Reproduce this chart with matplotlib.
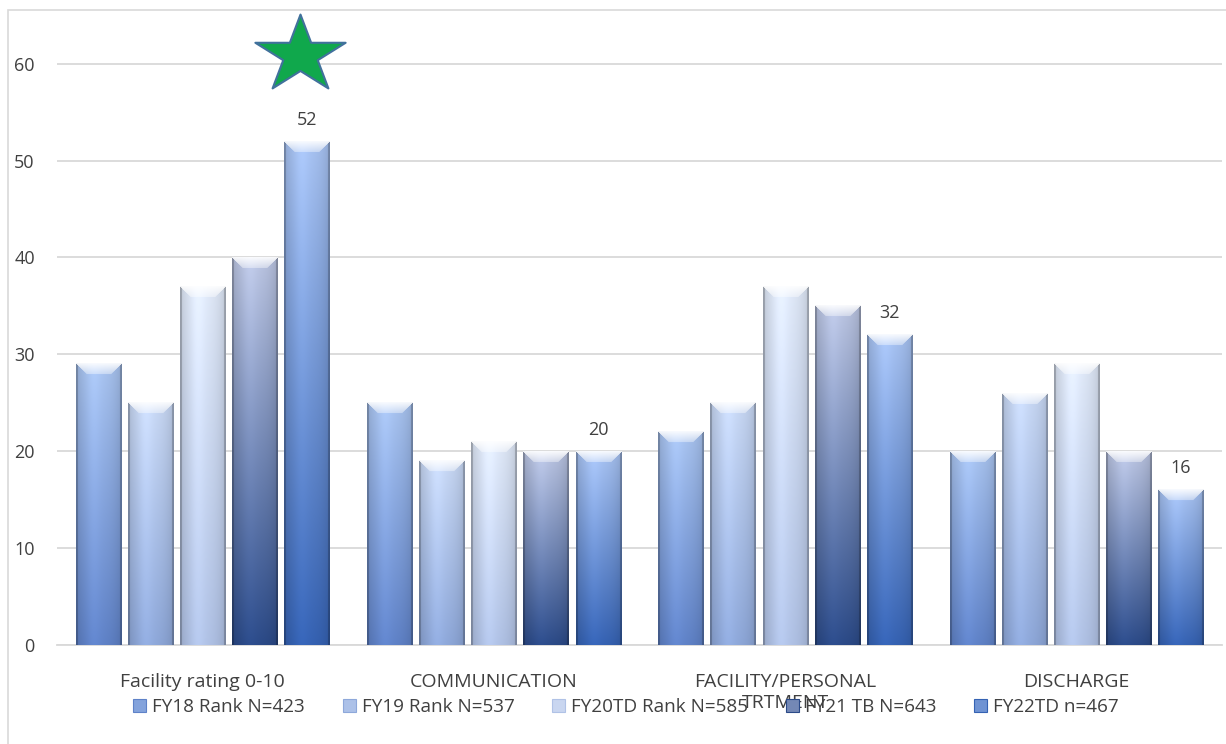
import numpy as np
import matplotlib
matplotlib.use("Agg")
import matplotlib.pyplot as plt
from matplotlib.patches import Patch, Rectangle
from matplotlib.path import Path
from matplotlib.colors import to_rgb

# ---------------- data ----------------
categories = ["Facility rating 0-10", "COMMUNICATION", "FACILITY/PERSONAL\nTRTMENT", "DISCHARGE"]
series_names = ["FY18 Rank N=423", "FY19 Rank N=537", "FY20TD Rank N=585", "FY21 TB N=643", "FY22TD n=467"]
fy18 = [29, 25, 22, 20]
fy19 = [25, 19, 25, 26]
fy20 = [37, 21, 37, 29]
fy21 = [40, 20, 35, 20]
fy22 = [52, 20, 32, 16]
yticks = [0, 10, 20, 30, 40, 50, 60]
star_value = 61.3

series = [fy18, fy19, fy20, fy21, fy22]
# (top colour, bottom colour) of each series' gradient
grad = [("#a9c4f0", "#5f82c8"),
        ("#c9d9f5", "#8ea8da"),
        ("#e1eaf9", "#b0c2e6"),
        ("#bcc6e3", "#2b4a88"),
        ("#a8c3f2", "#3562b3")]

TXT = "#404040"
plt.rcParams["font.family"] = ["Open Sans", "DejaVu Sans"]

fig = plt.figure(figsize=(12.26, 7.44), dpi=100)
ax = fig.add_axes([57 / 1226, 1 - 645 / 744, (1222 - 57) / 1226, 625 / 744])

x = np.arange(len(categories))
step = 0.179
width = 0.155
offsets = (np.arange(len(series)) - 2) * step

bar_groups = []
for i, vals in enumerate(series):
    t, b = grad[i]
    mid = tuple((np.array(to_rgb(t)) + np.array(to_rgb(b))) / 2)
    bars = ax.bar(x + offsets[i], vals, width, color=mid, linewidth=0, zorder=2)
    bar_groups.append(bars)

ax.set_xlim(-0.5, 3.5)
ax.set_ylim(0, 64.5)

# gradient / bevel rendering of each bar
for i, bars in enumerate(bar_groups):
    top = np.array(to_rgb(grad[i][0]))
    bot = np.array(to_rgb(grad[i][1]))
    for p in bars:
        x0, w, h = p.get_x(), p.get_width(), p.get_height()
        (px0, py0), (px1, py1) = ax.transData.transform([(x0, 0), (x0 + w, h)])
        cols = max(int(round(px1 - px0)), 2)
        rows = max(int(round(py1 - py0)), 2)
        u = (np.arange(cols) + 0.5) / cols
        tt = (np.arange(rows) + 0.5) / rows
        img = top[None, None, :] * (1 - tt)[:, None, None] + bot[None, None, :] * tt[:, None, None]
        img = np.repeat(img, cols, axis=1)
        shade = 0.83 + 0.17 * np.sin(np.pi * u) ** 0.6 + 0.05 * np.exp(-((u - 0.38) / 0.15) ** 2)
        img = img * shade[None, :, None]
        ci = np.arange(cols)
        dx = np.minimum(ci, cols - 1 - ci)
        edge = np.where(dx < 2, 0.8, 1.0)
        img = img * edge[None, :, None]
        # bevel cap
        d = 11
        ri = np.arange(rows)
        R, D = np.meshgrid(ri, dx, indexing="ij")
        cap = (R < d) & (D >= R)
        a = np.clip(0.9 - 0.55 * (R / d), 0, 1)
        white = np.array([1.0, 1.0, 1.0])
        img = np.where(cap[..., None], img * (1 - a[..., None]) + white * a[..., None], img)
        img = np.clip(img, 0, 1)
        ax.imshow(img, extent=(x0, x0 + w, 0, h), aspect="auto", zorder=3,
                  interpolation="bilinear")

ax.set_xlim(-0.5, 3.5)
ax.set_ylim(0, 64.5)

# value labels on last series
ax.bar_label(bar_groups[-1], labels=[str(v) for v in fy22], padding=9,
             fontsize=13, color=TXT, zorder=6)

# star above the highest bar
ang = np.pi / 2 + np.arange(10) * np.pi / 5
rad = np.where(np.arange(10) % 2 == 0, 1.0, 0.382)
sx = rad * np.cos(ang)
sy = rad * np.sin(ang) * 0.86
sy = sy - (sy.max() + sy.min()) / 2
star = Path(np.column_stack([np.append(sx, sx[0]), np.append(sy, sy[0])]), closed=True)
ax.plot([x[0] + offsets[-1] - 0.024], [star_value], marker=star, markersize=65,
        markerfacecolor="#10a84c", markeredgecolor="#41719c", markeredgewidth=1.5,
        linestyle="none", clip_on=False, zorder=7)

# axes styling
ax.set_yticks(yticks)
ax.set_xticks(x)
ax.set_xticklabels(categories, fontsize=14, color=TXT, linespacing=1.2)
ax.tick_params(axis="y", length=0, labelsize=13, labelcolor=TXT, pad=16)
ax.tick_params(axis="x", length=0, pad=20)
ax.yaxis.grid(True, color="#d9d9d9", linewidth=1.3)
ax.set_axisbelow(True)
for s in ["left", "right", "top"]:
    ax.spines[s].set_visible(False)
ax.spines["bottom"].set_color("#d9d9d9")
ax.spines["bottom"].set_linewidth(1.3)

# legend
handles = []
for i in range(len(series)):
    t, b = grad[i]
    mid = tuple((np.array(to_rgb(t)) + np.array(to_rgb(b))) / 2)
    handles.append(Patch(facecolor=mid, edgecolor=b, linewidth=0.8))
fig.legend(handles, series_names, loc="center", bbox_to_anchor=(0.5106, 1 - 707 / 744),
           ncol=5, frameon=False, handlelength=0.69, handleheight=0.69,
           handletextpad=0.33, columnspacing=1.98,
           prop={"family": ["Open Sans", "DejaVu Sans"], "size": 13.6}, labelcolor=TXT)

# outer chart border
fig.add_artist(Rectangle((7.5 / 1226, -0.1), 2, 1 - 9.5 / 744 + 0.1, transform=fig.transFigure,
                         fill=False, edgecolor="#d9d9d9", linewidth=1.2))

fig.savefig("out.png", dpi=100)
